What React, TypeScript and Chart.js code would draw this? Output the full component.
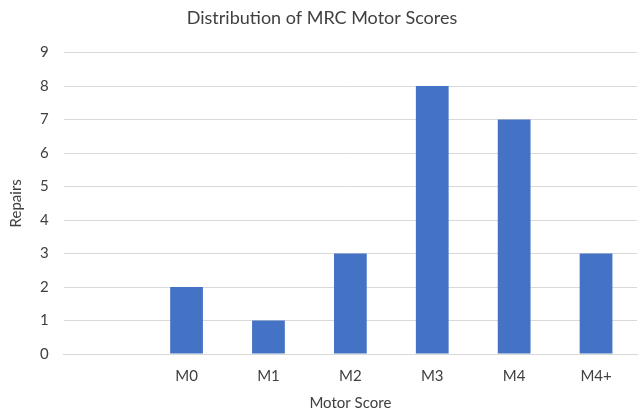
import React, { useEffect, useRef } from "react";
import { Chart, registerables } from "chart.js";

Chart.register(...registerables);

const categories = ["", "M0", "M1", "M2", "M3", "M4", "M4+"];
const repairs = [null, 2, 1, 3, 8, 7, 3];
const yTicks = [0, 1, 2, 3, 4, 5, 6, 7, 8, 9];

const FONT = "Lato, 'Open Sans', sans-serif";

export default function App() {
  const ref = useRef<HTMLCanvasElement>(null);
  useEffect(() => {
    document.body.style.margin = "0";
    const chart = new Chart(ref.current!, {
      type: "bar",
      data: {
        labels: categories,
        datasets: [
          {
            label: "Repairs",
            data: repairs,
            backgroundColor: "#4472c4",
            barPercentage: 0.4,
            categoryPercentage: 1,
          },
        ],
      },
      options: {
        responsive: false,
        animation: false,
        layout: { padding: { left: 7, right: 2, top: 0, bottom: 7 } },
        plugins: {
          legend: { display: false },
          tooltip: { enabled: false },
          title: {
            display: true,
            text: "Distribution of MRC Motor Scores",
            color: "#404040",
            font: { family: FONT, size: 18, weight: "normal" },
            padding: { top: 7, bottom: 24 },
          },
        },
        scales: {
          x: {
            grid: { display: false, drawTicks: false },
            border: { display: true, color: "#d9d9d9" },
            ticks: {
              color: "#404040",
              font: { family: FONT, size: 15 },
              padding: 13,
            },
            title: {
              display: true,
              text: "Motor Score",
              color: "#404040",
              font: { family: FONT, size: 15 },
              padding: { top: -4, bottom: 0 },
            },
          },
          y: {
            min: 0,
            max: 9,
            afterBuildTicks: (axis: any) => {
              axis.ticks = yTicks.map((v) => ({ value: v }));
            },
            grid: { color: "#d9d9d9", drawTicks: false },
            border: { display: false },
            ticks: {
              color: "#404040",
              font: { family: FONT, size: 15 },
              padding: 15,
            },
            title: {
              display: true,
              text: "Repairs",
              color: "#404040",
              font: { family: FONT, size: 15 },
              padding: 0,
            },
          },
        },
      },
    });
    return () => chart.destroy();
  }, []);
  return <canvas ref={ref} width={639} height={419} style={{ display: "block" }} />;
}
